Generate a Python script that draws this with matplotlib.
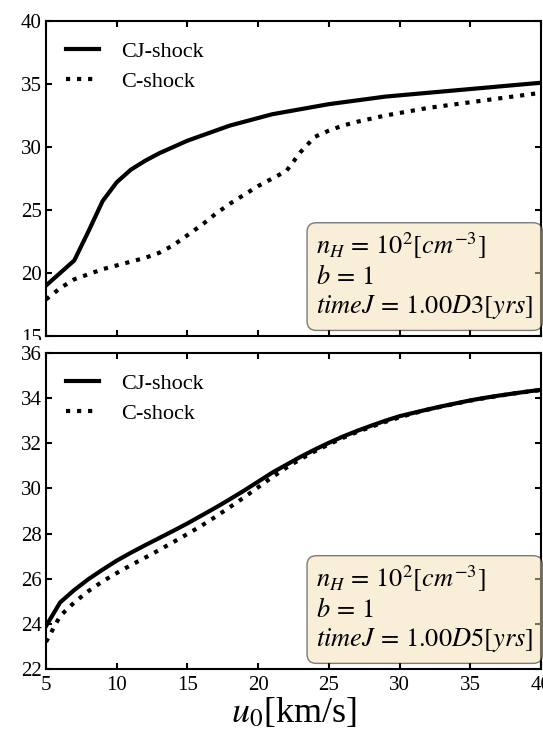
import numpy as np
import matplotlib.pyplot as plt
from matplotlib.transforms import Bbox, TransformedBbox

plt.rcParams['font.family'] = 'serif'
plt.rcParams['font.serif'] = ['Liberation Serif', 'DejaVu Serif']
plt.rcParams['mathtext.fontset'] = 'stix'

# shock velocity grid [km/s]
u0 = np.array([5, 6, 7, 8, 9, 10, 11, 12, 13, 14, 15, 16, 17, 18, 19, 20,
               21, 22, 23, 24, 25, 26, 27, 28, 29, 30, 31, 32, 33, 34, 35,
               36, 37, 38, 39, 40])

# timeJ = 1.00D3 yrs
cj_early = np.array([19.0, 20.0, 21.0, 23.3, 25.7, 27.2, 28.2, 28.9, 29.5, 30.0,
                     30.5, 30.9, 31.3, 31.7, 32.0, 32.3, 32.6, 32.8, 33.0, 33.2,
                     33.4, 33.55, 33.7, 33.85, 34.0, 34.1, 34.2, 34.3, 34.4, 34.5,
                     34.6, 34.7, 34.8, 34.9, 35.0, 35.1])
c_early = np.array([17.9, 18.8, 19.5, 19.9, 20.3, 20.6, 20.9, 21.2, 21.6, 22.2,
                    23.0, 23.8, 24.7, 25.5, 26.2, 26.9, 27.5, 28.1, 29.6, 30.8,
                    31.3, 31.7, 32.0, 32.25, 32.5, 32.7, 32.9, 33.1, 33.25, 33.4,
                    33.55, 33.7, 33.85, 34.0, 34.15, 34.3])

# timeJ = 1.00D5 yrs
cj_late = np.array([23.9, 24.95, 25.5, 25.98, 26.4, 26.8, 27.15, 27.48, 27.8, 28.12,
                    28.45, 28.8, 29.15, 29.52, 29.9, 30.3, 30.7, 31.05, 31.4, 31.72,
                    32.02, 32.3, 32.55, 32.78, 33.0, 33.2, 33.35, 33.5, 33.64, 33.77,
                    33.9, 34.01, 34.11, 34.2, 34.29, 34.37])
c_late = np.array([23.2, 24.35, 24.95, 25.45, 25.88, 26.25, 26.6, 26.93, 27.27, 27.62,
                   27.98, 28.35, 28.75, 29.17, 29.6, 30.05, 30.5, 30.92, 31.3, 31.64,
                   31.95, 32.24, 32.5, 32.73, 32.95, 33.15, 33.33, 33.49, 33.63, 33.76,
                   33.89, 34.0, 34.1, 34.2, 34.28, 34.36])

panels = [
    (cj_early, c_early, (15, 40), np.arange(15, 41, 5), '1.00D3'),
    (cj_late, c_late, (22, 36), np.arange(22, 37, 2), '1.00D5'),
]

fig = plt.figure(figsize=(5.43, 7.29), dpi=100)
ax1 = fig.add_axes([0.0847, 0.5391, 0.9116, 0.4321])
ax2 = fig.add_axes([0.0847, 0.0823, 0.9116, 0.4335])

for ax, (cj, c, ylim, yticks, tj) in zip([ax1, ax2], panels):
    ax.plot(u0, cj, color='k', lw=3, ls='-', label='CJ-shock')
    ax.plot(u0, c, color='k', lw=3, ls=':', label='C-shock')
    ax.set_xlim(5, 40)
    ax.set_ylim(*ylim)
    ax.set_xticks(np.arange(5, 41, 5))
    ax.set_yticks(yticks)
    ax.tick_params(direction='in', top=True, right=True, length=4, width=1.5,
                   labelsize=15, pad=3)
    ax.tick_params(axis='x', pad=5)
    for sp in ax.spines.values():
        sp.set_linewidth(1.5)
    ax.legend(loc='upper left', frameon=False, fontsize=16, handlelength=1.5,
              handletextpad=1.0, labelspacing=0.45)
    txt = (r'$n_H\,=\,10^2[cm^{-3}]$' + '\n' + r'$b\,=\,1$' + '\n'
           + r'$timeJ\,=\,%s[yrs]$' % tj)
    ax.text(0.546, 0.047, txt, transform=ax.transAxes, fontsize=19,
            ha='left', va='bottom', linespacing=1.2,
            bbox=dict(boxstyle='round,pad=0.35', facecolor='wheat', alpha=0.5))

ax1.tick_params(labelbottom=False)
ax2.set_xlabel(r'$u_0$[km/s]', fontsize=26, labelpad=1)

# the lowest label of the upper panel is cut where the lower panel begins
lbl = ax1.yaxis.get_major_ticks()[0].label1
lbl.set_clip_on(True)
lbl.set_clip_box(TransformedBbox(Bbox([[0, 0.534], [1, 1]]), fig.transFigure))

fig.savefig('out.png', dpi=100)
